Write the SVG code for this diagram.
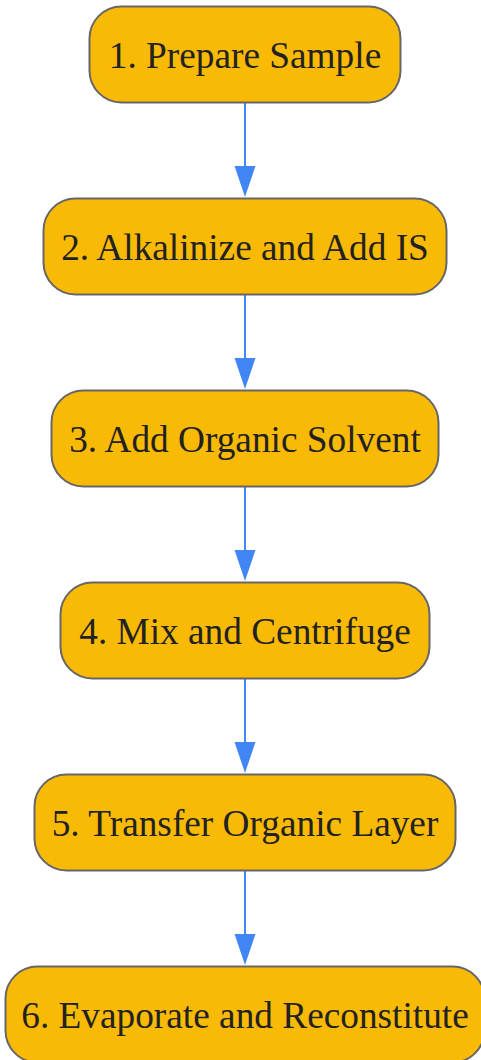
<svg xmlns="http://www.w3.org/2000/svg" width="481" height="1060" viewBox="0 0 481 1060">
<style>
.n rect{fill:#F9BA05;stroke:#666666;stroke-width:2}
.n text{font-family:"Liberation Serif",serif;font-size:37.3px;fill:#222222;text-anchor:middle}
.e line{stroke:#4285F4;stroke-width:2}
.e path{fill:#4285F4}
</style>
<rect width="481" height="1060" fill="#ffffff"/>
<g class="e" id="connectors">
<line x1="245" y1="102.5" x2="245" y2="170"/><path d="M234.5,166 L255.5,166 L245,197 Z"/>
<line x1="245" y1="294.5" x2="245" y2="362"/><path d="M234.5,358 L255.5,358 L245,389 Z"/>
<line x1="245" y1="486.5" x2="245" y2="554"/><path d="M234.5,550 L255.5,550 L245,581 Z"/>
<line x1="245" y1="678.5" x2="245" y2="746"/><path d="M234.5,742 L255.5,742 L245,773 Z"/>
<line x1="245" y1="870.5" x2="245" y2="938"/><path d="M234.5,934 L255.5,934 L245,965 Z"/>
</g>
<g class="n" id="n1"><rect x="89.5" y="6.5" width="311" height="96" rx="32"/><text x="245" y="68">1. Prepare Sample</text></g>
<g class="n" id="n2"><rect x="43.5" y="198.5" width="403" height="96" rx="32"/><text x="245" y="260">2. Alkalinize and Add IS</text></g>
<g class="n" id="n3"><rect x="51.5" y="390.5" width="387" height="96" rx="32"/><text x="245" y="452">3. Add Organic Solvent</text></g>
<g class="n" id="n4"><rect x="60.5" y="582.5" width="369" height="96" rx="32"/><text x="245" y="644">4. Mix and Centrifuge</text></g>
<g class="n" id="n5"><rect x="34.5" y="774.5" width="421" height="96" rx="32"/><text x="245" y="836">5. Transfer Organic Layer</text></g>
<g class="n" id="n6"><rect x="5.5" y="966.5" width="479" height="96" rx="32"/><text x="245" y="1028">6. Evaporate and Reconstitute</text></g>
</svg>
